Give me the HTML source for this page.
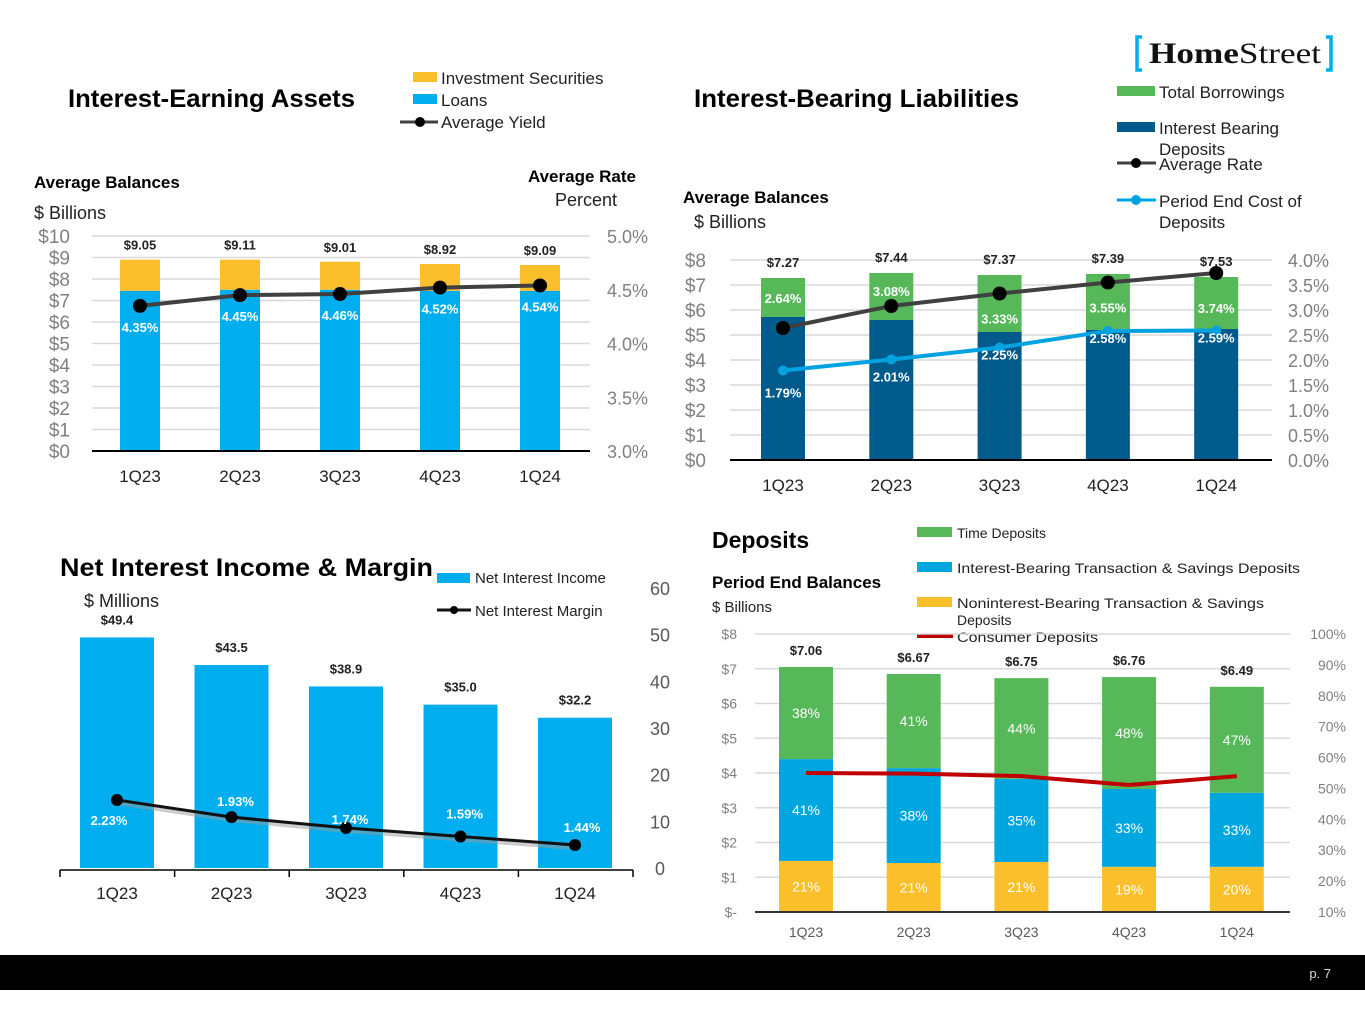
<!DOCTYPE html>
<html><head><meta charset="utf-8"><style>
html,body{margin:0;padding:0;background:#fff;}
svg{display:block;font-family:"Liberation Sans",sans-serif;}
</style></head><body>
<svg id="s" width="1365" height="1024" viewBox="0 0 1365 1024">
<g>
<path d="M1142 37 h-5 v33 h5" fill="none" stroke="#00AEEF" stroke-width="3.5"/>
<path d="M1326 37 h5 v33 h-5" fill="none" stroke="#00AEEF" stroke-width="3.5"/>
<text x="1149" y="63" font-family="Liberation Serif,serif" font-size="30" fill="#111" textLength="172" lengthAdjust="spacingAndGlyphs"><tspan font-weight="bold">Home</tspan>Street</text>
</g>
<g id="c1">
<text x="68" y="107" font-size="25" font-weight="bold" textLength="287" lengthAdjust="spacingAndGlyphs">Interest-Earning Assets</text>
<rect x="413" y="72" width="24" height="10" fill="#FBBF2C"/><text x="441" y="84" font-size="17" fill="#222">Investment Securities</text>
<rect x="413" y="94" width="24" height="10" fill="#00AEEF"/><text x="441" y="106" font-size="17" fill="#222">Loans</text>
<line x1="400" y1="122" x2="438" y2="122" stroke="#404040" stroke-width="3"/><circle cx="420" cy="122" r="5" fill="#000"/><text x="441" y="128" font-size="17" fill="#222">Average Yield</text>
<text x="34" y="188" font-size="17" font-weight="bold">Average Balances</text>
<text x="34" y="219" font-size="18" fill="#222">$ Billions</text>
<text x="636" y="182" font-size="17" font-weight="bold" text-anchor="end">Average Rate</text>
<text x="617" y="206" font-size="18" text-anchor="end" fill="#222">Percent</text>
</g>
<g id="c2">
<text x="694" y="107" font-size="25" font-weight="bold" textLength="325" lengthAdjust="spacingAndGlyphs">Interest-Bearing Liabilities</text>
<rect x="1117" y="86" width="38" height="10" fill="#57B85A"/><text x="1159" y="98" font-size="17" fill="#222">Total Borrowings</text>
<rect x="1117" y="122" width="38" height="10" fill="#005A8C"/><text x="1159" y="134" font-size="17" fill="#222">Interest Bearing</text><text x="1159" y="155" font-size="17" fill="#222">Deposits</text>
<line x1="1117" y1="163" x2="1156" y2="163" stroke="#404040" stroke-width="3"/><circle cx="1136" cy="163" r="5" fill="#000"/><text x="1159" y="170" font-size="17" fill="#222">Average Rate</text>
<line x1="1117" y1="200" x2="1156" y2="200" stroke="#00A3E0" stroke-width="3"/><circle cx="1136" cy="200" r="5" fill="#00A3E0"/><text x="1159" y="207" font-size="17" fill="#222">Period End Cost of</text><text x="1159" y="228" font-size="17" fill="#222">Deposits</text>
<text x="683" y="203" font-size="17" font-weight="bold">Average Balances</text>
<text x="694" y="228" font-size="18" fill="#222">$ Billions</text>
</g>
<g id="c3">
<text x="60" y="576" font-size="25" font-weight="bold" textLength="373" lengthAdjust="spacingAndGlyphs">Net Interest Income &amp; Margin</text>
<text x="84" y="607" font-size="18" fill="#222">$ Millions</text>
<rect x="437" y="573" width="33" height="10" fill="#00AEEF"/><text x="475" y="583" font-size="15" fill="#222">Net Interest Income</text>
<line x1="437" y1="610" x2="471" y2="610" stroke="#111" stroke-width="3"/><circle cx="454" cy="610" r="4" fill="#000"/><text x="475" y="616" font-size="15" fill="#222">Net Interest Margin</text>
</g>
<g id="c4">
<text x="712" y="548" font-size="23" font-weight="bold">Deposits</text>
<text x="712" y="588" font-size="17" font-weight="bold">Period End Balances</text>
<text x="712" y="612" font-size="15" fill="#222">$ Billions</text>
<rect x="917" y="527" width="35" height="10" fill="#57B85A"/><text x="957" y="538" font-size="14" fill="#222">Time Deposits</text>
<rect x="917" y="562" width="35" height="10" fill="#00A6E0"/><text x="957" y="573" font-size="14" fill="#222" textLength="343" lengthAdjust="spacingAndGlyphs">Interest-Bearing Transaction &amp; Savings Deposits</text>
<rect x="917" y="597" width="35" height="10" fill="#FBBF2C"/><text x="957" y="608" font-size="14" fill="#222" textLength="307" lengthAdjust="spacingAndGlyphs">Noninterest-Bearing Transaction &amp; Savings</text><text x="957" y="625" font-size="14" fill="#222">Deposits</text>
<line x1="917" y1="636" x2="953" y2="636" stroke="#C00000" stroke-width="4"/><text x="957" y="642" font-size="14" fill="#222" textLength="141" lengthAdjust="spacingAndGlyphs">Consumer Deposits</text>
</g>
<rect x="0" y="955" width="1365" height="35" fill="#000"/>
<text x="1331" y="978" font-size="13" fill="#ddd" text-anchor="end">p. 7</text>
</svg>
<script>
const quarters=["1Q23","2Q23","3Q23","4Q23","1Q24"];
// chart 1
const c1Loans=[7.45,7.5,7.5,7.45,7.45];
const c1Securities=[1.45,1.4,1.3,1.25,1.2];
const c1Totals=["$9.05","$9.11","$9.01","$8.92","$9.09"];
const c1Yield=[4.35,4.45,4.46,4.52,4.54];
const c1LeftTicks=[0,1,2,3,4,5,6,7,8,9,10];
const c1RightTicks=[3.0,3.5,4.0,4.5,5.0];
// chart 2
const c2Deposits=[5.72,5.6,5.12,5.2,5.24];
const c2Borrowings=[1.56,1.88,2.28,2.24,2.08];
const c2Totals=["$7.27","$7.44","$7.37","$7.39","$7.53"];
const c2AvgRate=[2.64,3.08,3.33,3.55,3.74];
const c2CostDeposits=[1.79,2.01,2.25,2.58,2.59];
const c2LeftTicks=[0,1,2,3,4,5,6,7,8];
const c2RightTicks=[0,0.5,1,1.5,2,2.5,3,3.5,4];
// chart 3
const c3NII=[49.4,43.5,38.9,35.0,32.2];
const c3NIM=[2.23,1.93,1.74,1.59,1.44];
const c3Ticks=[0,10,20,30,40,50,60];
// chart 4
const c4NonInt=[1.47,1.41,1.44,1.3,1.3];
const c4IntBearing=[2.93,2.73,2.39,2.24,2.13];
const c4Time=[2.65,2.71,2.9,3.22,3.05];
const c4Totals=["$7.06","$6.67","$6.75","$6.76","$6.49"];
const c4PctNon=["21%","21%","21%","19%","20%"];
const c4PctInt=["41%","38%","35%","33%","33%"];
const c4PctTime=["38%","41%","44%","48%","47%"];
const c4Consumer=[55.0,54.8,54.0,51.1,54.0];
const c4LeftTicks=[0,1,2,3,4,5,6,7,8];
const c4RightTicks=[10,20,30,40,50,60,70,80,90,100];

const NS="http://www.w3.org/2000/svg";
function mk(parent,tag,attrs,txt){const e=document.createElementNS(NS,tag);for(const k in attrs)e.setAttribute(k,attrs[k]);if(txt!==undefined)e.textContent=txt;parent.appendChild(e);return e;}
function lin(d0,d1,r0,r1){return v=>r0+(v-d0)/(d1-d0)*(r1-r0);}

// ---------- Chart 1
(function(){
const g=document.getElementById('c1');
const y=lin(0,10,451,236), y2=lin(3,5,451,236);
const x=i=>140+i*100;
c1LeftTicks.forEach(t=>{
 if(t>0){mk(g,'line',{x1:92,x2:590,y1:y(t),y2:y(t),stroke:'#d9d9d9','stroke-width':1.5});}
 const e=mk(g,'text',{x:70,y:y(t)+7,'font-size':19,fill:'#808080','text-anchor':'end'},'$'+t);
 
 
});
c1RightTicks.forEach(t=>{const e=mk(g,'text',{x:648,y:y2(t)+7,'font-size':18,fill:'#808080','text-anchor':'end'},t.toFixed(1)+'%');
 
 });
quarters.forEach((q,i)=>{
 const b=mk(g,'rect',{x:x(i)-20,y:y(c1Loans[i]),width:40,height:y(0)-y(c1Loans[i]),fill:'#00AEEF'});
 
 
 const top=c1Loans[i]+c1Securities[i];
 const s=mk(g,'rect',{x:x(i)-20,y:y(top),width:40,height:y(c1Loans[i])-y(top),fill:'#FBBF2C'});
 
 
 const t=mk(g,'text',{x:x(i),y:y(top)-10,'font-size':13,'font-weight':'bold','text-anchor':'middle',fill:'#222'},c1Totals[i]);
 
 
 const xl=mk(g,'text',{x:x(i),y:482,'font-size':17,'text-anchor':'middle',fill:'#222'},q);
 
 
});
mk(g,'line',{x1:92,x2:590,y1:451,y2:451,stroke:'#000','stroke-width':2});
mk(g,'polyline',{points:c1Yield.map((v,i)=>x(i)+','+y2(v)).join(' '),fill:'none',stroke:'#404040','stroke-width':4});
c1Yield.forEach((v,i)=>{
 const c=mk(g,'circle',{cx:x(i),cy:y2(v),r:7,fill:'#000'});
 
 
 const t=mk(g,'text',{x:x(i),y:y2(v)+26,'font-size':13,'font-weight':'bold','text-anchor':'middle',fill:'#fff'},v.toFixed(2)+'%');
 
 
});
})();

// ---------- Chart 2
(function(){
const g=document.getElementById('c2');
const y=lin(0,8,460,260), y2=lin(0,4,460,260);
const x=i=>783+i*108.3;
c2LeftTicks.forEach(t=>{
 if(t>0)mk(g,'line',{x1:730,x2:1272,y1:y(t),y2:y(t),stroke:'#d9d9d9','stroke-width':1.5});
 const e=mk(g,'text',{x:706,y:y(t)+7,'font-size':19,fill:'#808080','text-anchor':'end'},'$'+t);
 
 
});
c2RightTicks.forEach(t=>{const e=mk(g,'text',{x:1329,y:y2(t)+7,'font-size':18,fill:'#808080','text-anchor':'end'},t.toFixed(1)+'%');
 
 });
quarters.forEach((q,i)=>{
 const b=mk(g,'rect',{x:x(i)-22,y:y(c2Deposits[i]),width:44,height:y(0)-y(c2Deposits[i]),fill:'#005A8C'});
 
 
 const top=c2Deposits[i]+c2Borrowings[i];
 const s=mk(g,'rect',{x:x(i)-22,y:y(top),width:44,height:y(c2Deposits[i])-y(top),fill:'#57B85A'});
 
 
 const t=mk(g,'text',{x:x(i),y:y(top)-11,'font-size':13,'font-weight':'bold','text-anchor':'middle',fill:'#222'},c2Totals[i]);
 
 
 const xl=mk(g,'text',{x:x(i),y:491,'font-size':17,'text-anchor':'middle',fill:'#222'},q);
 
 
});
mk(g,'line',{x1:730,x2:1272,y1:460,y2:460,stroke:'#000','stroke-width':2});
mk(g,'polyline',{points:c2AvgRate.map((v,i)=>x(i)+','+y2(v)).join(' '),fill:'none',stroke:'#404040','stroke-width':4});
mk(g,'polyline',{points:c2CostDeposits.map((v,i)=>x(i)+','+y2(v)).join(' '),fill:'none',stroke:'#00A3E0','stroke-width':4});
const ro=[-25,-10,30,30,40];
c2AvgRate.forEach((v,i)=>{
 const c=mk(g,'circle',{cx:x(i),cy:y2(v),r:7,fill:'#000'});
 
 
 const t=mk(g,'text',{x:x(i),y:y2(v)+ro[i],'font-size':13,'font-weight':'bold','text-anchor':'middle',fill:'#fff'},v.toFixed(2)+'%');
 
 
});
c2CostDeposits.forEach((v,i)=>{
 const c=mk(g,'circle',{cx:x(i),cy:y2(v),r:5,fill:'#00A3E0'});
 
 
 const t=mk(g,'text',{x:x(i),y:y2(v)+(i==0?27:i==1?22:12),'font-size':13,'font-weight':'bold','text-anchor':'middle',fill:'#fff'},v.toFixed(2)+'%');
 
 
});
})();

// ---------- Chart 3
(function(){
const g=document.getElementById('c3');
const y=lin(0,60,868,588), ym=lin(1.44,2.23,845,800);
const x=i=>117+i*114.5;
c3Ticks.forEach(t=>{const e=mk(g,'text',{x:660,y:y(t)+7,'font-size':18,fill:'#595959','text-anchor':'middle'},t);
 
 });
quarters.forEach((q,i)=>{
 const b=mk(g,'rect',{x:x(i)-37,y:y(c3NII[i]),width:74,height:y(0)-y(c3NII[i]),fill:'#00AEEF'});
 
 
 const t=mk(g,'text',{x:x(i),y:y(c3NII[i])-13,'font-size':13,'font-weight':'bold','text-anchor':'middle',fill:'#222'},'$'+c3NII[i].toFixed(1));
 
 
 const xl=mk(g,'text',{x:x(i),y:899,'font-size':17,'text-anchor':'middle',fill:'#222'},q);
 
 
});
mk(g,'line',{x1:60,x2:633,y1:870,y2:870,stroke:'#000','stroke-width':1.5});
for(let k=0;k<=5;k++)mk(g,'line',{x1:60+k*114.6,x2:60+k*114.6,y1:870,y2:877,stroke:'#000','stroke-width':1.5});
mk(g,'polyline',{points:c3NIM.map((v,i)=>x(i)+','+(ym(v)+3)).join(' '),fill:'none',stroke:'#999','stroke-width':4,opacity:0.5});
mk(g,'polyline',{points:c3NIM.map((v,i)=>x(i)+','+ym(v)).join(' '),fill:'none',stroke:'#111','stroke-width':3});
const dy=[21,-15,-8,-22,-17];
c3NIM.forEach((v,i)=>{
 const c=mk(g,'circle',{cx:x(i),cy:ym(v),r:6,fill:'#000'});
 
 
 const t=mk(g,'text',{x:x(i)+(i==0?-8:i==4?7:4),y:ym(v)+dy[i]+4,'font-size':13,'font-weight':'bold','text-anchor':'middle',fill:'#fff'},v.toFixed(2)+'%');
 
 
});
})();

// ---------- Chart 4
(function(){
const g=document.getElementById('c4');
const y=lin(0,8,912,634), y2=lin(10,100,912,634);
const x=i=>806+i*107.7;
c4LeftTicks.forEach(t=>{
 if(t>0)mk(g,'line',{x1:755,x2:1290,y1:y(t),y2:y(t),stroke:'#d9d9d9','stroke-width':1.5});
 const e=mk(g,'text',{x:737,y:y(t)+5,'font-size':14,fill:'#808080','text-anchor':'end'},t==0?'$-':'$'+t);
 
 
});
c4RightTicks.forEach(t=>{const e=mk(g,'text',{x:1346,y:y2(t)+5,'font-size':14,fill:'#808080','text-anchor':'end'},t+'%');
 
 });
quarters.forEach((q,i)=>{
 const a=c4NonInt[i], b=a+c4IntBearing[i], c=b+c4Time[i];
 const r1=mk(g,'rect',{x:x(i)-27,y:y(a),width:54,height:y(0)-y(a),fill:'#FBBF2C'});
 
 
 const r2=mk(g,'rect',{x:x(i)-27,y:y(b),width:54,height:y(a)-y(b),fill:'#00A6E0'});
 
 
 const r3=mk(g,'rect',{x:x(i)-27,y:y(c),width:54,height:y(b)-y(c),fill:'#57B85A'});
 
 
 [[c4PctNon[i],(y(0)+y(a))/2],[c4PctInt[i],(y(a)+y(b))/2],[c4PctTime[i],(y(b)+y(c))/2]].forEach(p=>{
  const t=mk(g,'text',{x:x(i),y:p[1]+5,'font-size':14,'text-anchor':'middle',fill:'#fff'},p[0]);
  
  
 });
 const t=mk(g,'text',{x:x(i),y:y(c)-12,'font-size':13,'font-weight':'bold','text-anchor':'middle',fill:'#222'},c4Totals[i]);
 
 
 const xl=mk(g,'text',{x:x(i),y:937,'font-size':14,'text-anchor':'middle',fill:'#595959'},q);
 
 
});
mk(g,'line',{x1:755,x2:1290,y1:912,y2:912,stroke:'#333','stroke-width':2});
const l=mk(g,'polyline',{points:c4Consumer.map((v,i)=>x(i)+','+y2(v)).join(' '),fill:'none',stroke:'#C00000','stroke-width':4,'stroke-linejoin':'round'});


})();
</script>
</body></html>
